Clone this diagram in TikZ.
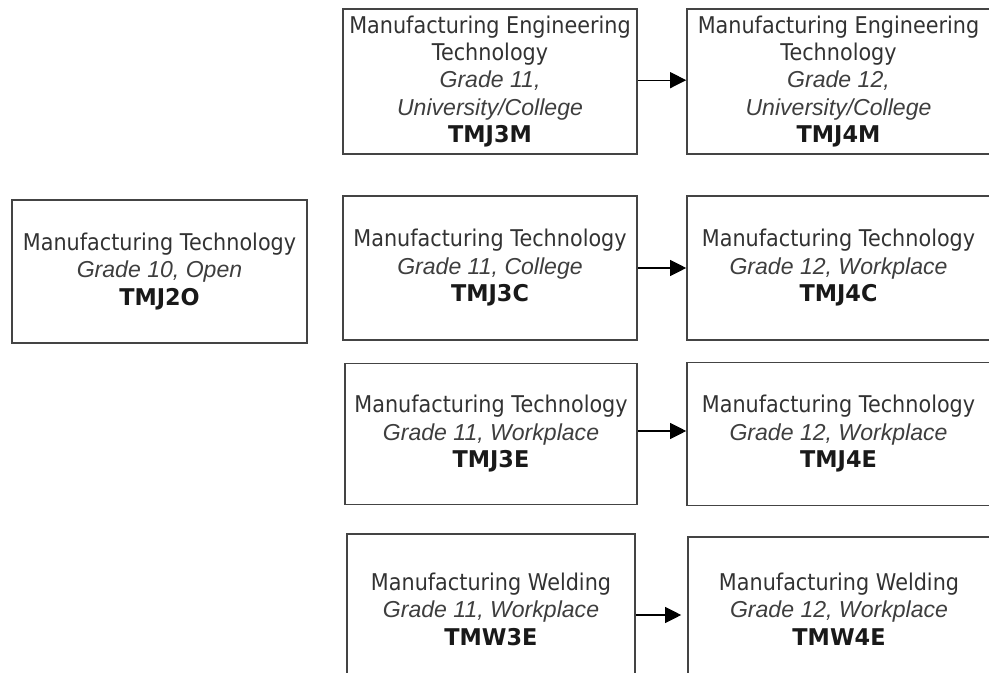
\documentclass[tikz,border=0pt]{standalone}
\usepackage{fontspec}
\setmainfont{DejaVu Sans}[FakeStretch=0.9]
\newfontfamily\gradefont{Liberation Sans}
\newfontfamily\codefont{DejaVu Sans}[FakeStretch=0.97]
\usetikzlibrary{arrows.meta}

\definecolor{boxline}{RGB}{68,68,68}
\definecolor{nametext}{RGB}{50,50,50}
\definecolor{gradetext}{RGB}{62,62,62}
\definecolor{codetext}{RGB}{25,25,25}

\newcommand{\grade}[1]{{\gradefont\itshape\color{gradetext}#1}}
\newcommand{\code}[1]{{\codefont\bfseries\color{codetext}#1}}

\tikzset{every picture/.style={line width=0.75pt}}
\tikzset{
  coursebox/.style={draw=boxline,line width=1.2pt,align=center,inner sep=0pt,
    text=nametext,font=\fontsize{17.3}{20.6}\selectfont},
  nextarrow/.style={draw=black,line width=0.8pt,-{Triangle[length=12pt,width=12pt]}}
}

\begin{document}
\begin{tikzpicture}[x=0.75pt,y=0.75pt,yscale=-1,xscale=1]
\useasboundingbox (0,0) rectangle (989,673);
\clip (0,0) rectangle (989,673);

% Text Node
\node [coursebox,minimum width=221.25pt,minimum height=107.25pt] (tmjtwoo) at (159.5,271.5)
  {Manufacturing Technology\\\grade{Grade 10, Open}\\\code{TMJ2O}};
% Text Node
\node [coursebox,minimum width=220.5pt,minimum height=108.75pt] (tmjthreem) at (490,81.5)
  {Manufacturing Engineering\\Technology\\\grade{Grade 11,}\\\grade{University/College}\\\code{TMJ3M}};
% Text Node
\node [coursebox,minimum width=227.25pt,minimum height=108.75pt] (tmjfourm) at (838.5,81.5)
  {Manufacturing Engineering\\Technology\\\grade{Grade 12,}\\\grade{University/College}\\\code{TMJ4M}};
% Text Node
\node [coursebox,minimum width=220.5pt,minimum height=108pt] (tmjthreec) at (490,268)
  {Manufacturing Technology\\\grade{Grade 11, College}\\\code{TMJ3C}};
% Text Node
\node [coursebox,minimum width=227.25pt,minimum height=108pt] (tmjfourc) at (838.5,268)
  {Manufacturing Technology\\\grade{Grade 12, Workplace}\\\code{TMJ4C}};
% Text Node
\node [coursebox,minimum width=219pt,minimum height=105.75pt] (tmjthreee) at (491,434)
  {Manufacturing Technology\\\grade{Grade 11, Workplace}\\\code{TMJ3E}};
% Text Node
\node [coursebox,minimum width=227.25pt,minimum height=107.25pt] (tmjfoure) at (838.5,434)
  {Manufacturing Technology\\\grade{Grade 12, Workplace}\\\code{TMJ4E}};
% Text Node
\node [coursebox,minimum width=216pt,minimum height=112.5pt] (tmwthreee) at (491,609)
  {Manufacturing Welding\\\grade{Grade 11, Workplace}\\\code{TMW3E}};
% Text Node
\node [coursebox,minimum width=226.5pt,minimum height=108pt] (tmwfoure) at (839,609)
  {Manufacturing Welding\\\grade{Grade 12, Workplace}\\\code{TMW4E}};

% Connection
\draw [nextarrow] ([yshift=-1pt]tmjthreem.east) -- ([yshift=-1pt]tmjfourm.west);
% Connection
\draw [nextarrow] (tmjthreec.east) -- (tmjfourc.west);
% Connection
\draw [nextarrow] ([yshift=-2.25pt]tmjthreee.east) -- ([yshift=-2.25pt]tmjfoure.west);
% Connection
\draw [nextarrow,shorten >=4.5pt] ([yshift=4.5pt]tmwthreee.east) -- ([yshift=4.5pt]tmwfoure.west);

\end{tikzpicture}
\end{document}
